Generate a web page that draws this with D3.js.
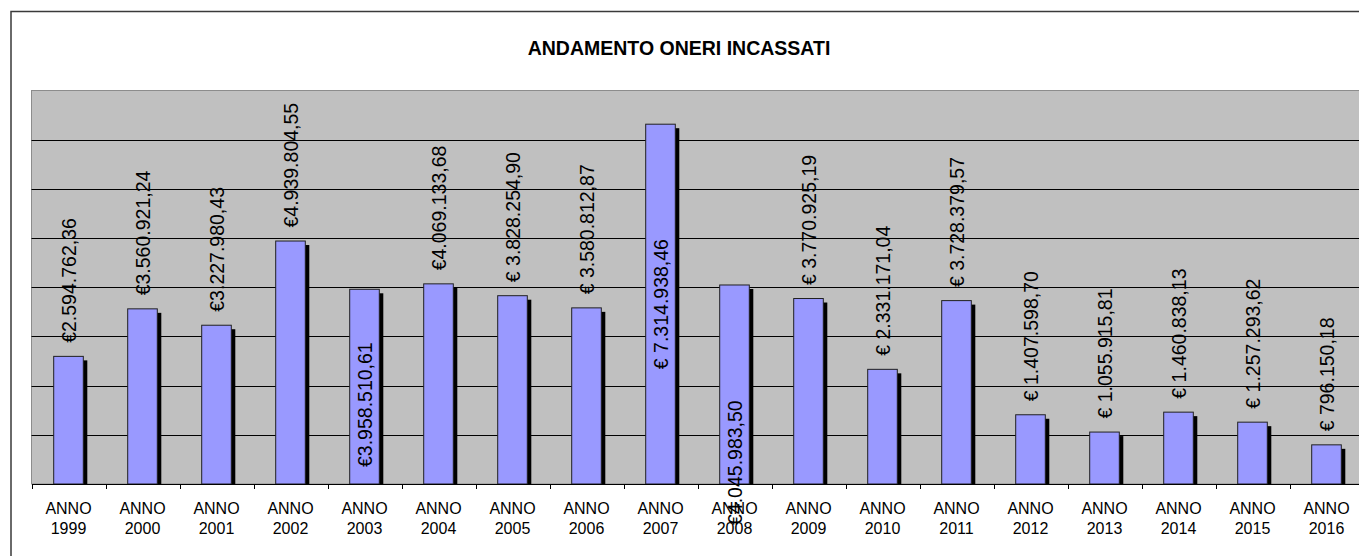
<!DOCTYPE html>
<html>
<head>
<meta charset="utf-8">
<script src="https://cdn.jsdelivr.net/npm/d3@7"></script>
<style>
  html, body { margin: 0; padding: 0; background: #fff; }
  svg { display: block; font-family: "Liberation Sans", Arial, sans-serif; }
</style>
</head>
<body>
<svg id="chart" width="1359" height="556"></svg>
<script>
// Oneri incassati per anno (euro)
const years = ["1999", "2000", "2001", "2002", "2003", "2004", "2005", "2006", "2007",
               "2008", "2009", "2010", "2011", "2012", "2013", "2014", "2015", "2016"];
const values = [2594762.36, 3560921.24, 3227980.43, 4939804.55, 3958510.61, 4069133.68,
                3828254.90, 3580812.87, 7314938.46, 4045983.50, 3770925.19, 2331171.04,
                3728379.57, 1407598.70, 1055915.81, 1460838.13, 1257293.62, 796150.18];
// whether the euro sign is followed by a space in the value label
const euroSpaced = [false, false, false, false, false, false, true, true, true,
                    false, true, true, true, true, true, true, true, true];
// where each value label sits relative to its bar
const labelPlacement = ["end", "end", "end", "end", "base", "end", "end", "end", "mid",
                        "below", "end", "end", "end", "end", "end", "end", "end", "end"];
const yTicks = [0, 1000000, 2000000, 3000000, 4000000, 5000000, 6000000, 7000000, 8000000];
const title = "ANDAMENTO ONERI INCASSATI";
const categoryPrefix = "ANNO";

const svg = d3.select("#chart");

const plot = { left: 31.5, top: 90.5, bottom: 484, right: 1363.5 };

const x = d3.scaleBand().domain(years).range([plot.left, plot.right]).padding(0);
const y = d3.scaleLinear().domain([0, 8000000]).range([plot.bottom, plot.top]);

const itLocale = d3.formatLocale({ decimal: ",", thousands: ".", grouping: [3], currency: ["€", ""] });
const fmt = itLocale.format(",.2f");

// chart area frame
svg.append("rect")
  .attr("x", 11).attr("y", 11.5)
  .attr("width", 1400).attr("height", 600)
  .attr("fill", "#fff").attr("stroke", "#3a3a3a").attr("stroke-width", 1.5);

// title
svg.append("text")
  .attr("x", 679).attr("y", 55)
  .attr("text-anchor", "middle")
  .attr("font-size", "19.5px").attr("font-weight", "bold")
  .attr("fill", "#000")
  .text(title);

// plot background
svg.append("rect")
  .attr("x", plot.left).attr("y", plot.top)
  .attr("width", plot.right - plot.left + 20).attr("height", plot.bottom - plot.top)
  .attr("fill", "#c0c0c0").attr("stroke", "#8c8c8c").attr("stroke-width", 1);

// horizontal gridlines
svg.append("g")
  .selectAll("line")
  .data(yTicks.filter(d => d > 0 && d < 8000000))
  .join("line")
  .attr("x1", plot.left).attr("x2", 1359)
  .attr("y1", d => Math.round(y(d)) + 0.5).attr("y2", d => Math.round(y(d)) + 0.5)
  .attr("stroke", "#000").attr("stroke-width", 1);

const barW = x.bandwidth() * 0.4;
const shadowOff = 4;

const bars = svg.append("g");
// drop shadows
bars.selectAll("rect.shadow")
  .data(years)
  .join("rect")
  .attr("class", "shadow")
  .attr("x", (d) => x(d) + (x.bandwidth() - barW) / 2 + shadowOff)
  .attr("y", (d, i) => y(values[i]) + shadowOff)
  .attr("width", barW)
  .attr("height", (d, i) => Math.max(0, plot.bottom - y(values[i]) - shadowOff))
  .attr("fill", "#000");
// bars
bars.selectAll("rect.bar")
  .data(years)
  .join("rect")
  .attr("class", "bar")
  .attr("x", (d) => x(d) + (x.bandwidth() - barW) / 2)
  .attr("y", (d, i) => y(values[i]))
  .attr("width", barW)
  .attr("height", (d, i) => plot.bottom - y(values[i]))
  .attr("fill", "#9999ff").attr("stroke", "#202020").attr("stroke-width", 1);

// category axis
const xAxis = d3.axisBottom(x).tickSize(0).tickFormat("");
const axisG = svg.append("g").attr("transform", `translate(0,${plot.bottom})`).call(xAxis);
axisG.select(".domain").attr("stroke", "#000").attr("stroke-width", 1.2);
// tick marks on category boundaries
axisG.selectAll("line.sep")
  .data(years)
  .join("line")
  .attr("class", "sep")
  .attr("x1", d => Math.round(x(d)) + 0.5).attr("x2", d => Math.round(x(d)) + 0.5)
  .attr("y1", 0).attr("y2", 5)
  .attr("stroke", "#000");

// two-line category labels
const catLabels = svg.append("g")
  .attr("font-size", "16px").attr("fill", "#000").attr("text-anchor", "middle");
years.forEach(yr => {
  const cx = x(yr) + x.bandwidth() / 2;
  const t = catLabels.append("text").attr("x", cx).attr("y", 514);
  t.append("tspan").attr("x", cx).attr("y", 514).text(categoryPrefix);
  t.append("tspan").attr("x", cx).attr("y", 534).text(yr);
});

// value labels, rotated
const valLabels = svg.append("g").attr("font-size", "19.5px").attr("fill", "#000");
years.forEach((yr, i) => {
  const cx = x(yr) + x.bandwidth() / 2;
  const top = y(values[i]);
  const txt = (euroSpaced[i] ? "€ " : "€") + fmt(values[i]);
  let ly, anchor = "start";
  switch (labelPlacement[i]) {
    case "mid":   ly = (top + plot.bottom) / 2; anchor = "middle"; break;
    case "base":  ly = plot.bottom - 17; break;
    case "below": ly = plot.bottom + 41; break;
    default:      ly = top - 13.5;
  }
  valLabels.append("text")
    .attr("transform", `translate(${cx},${ly}) rotate(-90)`)
    .attr("dy", "0.36em")
    .attr("text-anchor", anchor)
    .text(txt);
});
</script>
</body>
</html>
